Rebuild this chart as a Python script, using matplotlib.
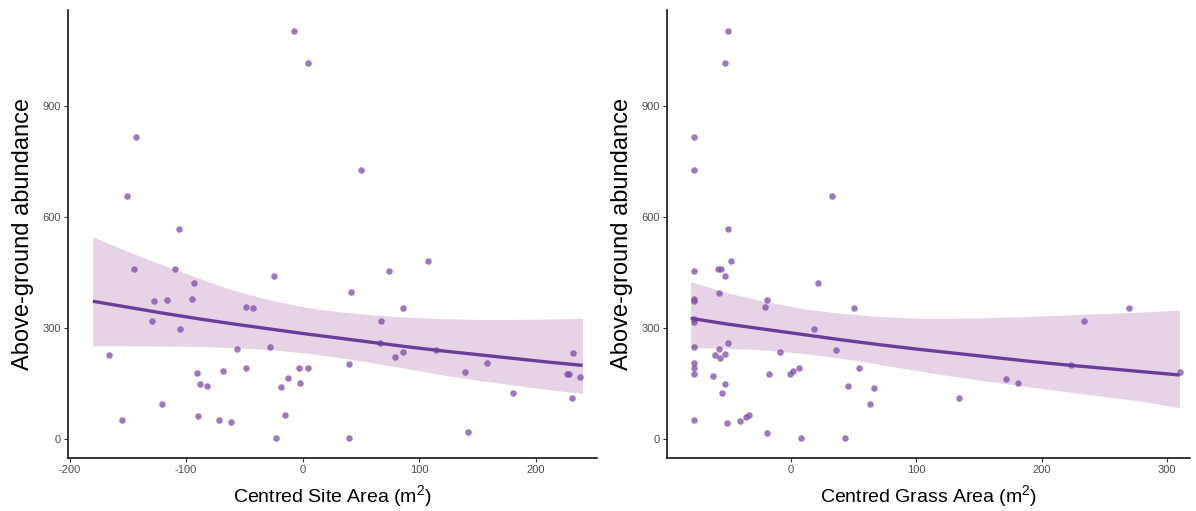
import matplotlib
matplotlib.use("Agg")
import matplotlib.pyplot as plt
import numpy as np

plt.rcParams["font.family"] = ["Liberation Sans", "DejaVu Sans"]
plt.rcParams["mathtext.fontset"] = "custom"
plt.rcParams["mathtext.rm"] = "Liberation Sans"
plt.rcParams["mathtext.it"] = "Liberation Sans:italic"
plt.rcParams["axes.unicode_minus"] = False

# --- left panel: centred site area ---
site_x = [-7.7, 4.8, -143.2, -151, -106, 50, -144.4, -109.8, -93, -24.4, 41.4,
          -127.8, -116.4, -94.7, -48.9, -42.4, -129.2, -105.5, -165.9, -56.3,
          -27.8, 39.4, -48.9, -91, -68.6, -88.3, -82.3, -2.9, 4.5, -12.3, -18.6,
          -2.6, -120.7, -154.7, -90, -71.5, -61.2, -15.4, -22.9, 39.4, 107.2, 74,
          86, 67.2, 66.6, 114, 79.2, 85.8, 139.2, 158, 180.4, 141.8, 232, 226.4,
          228.7, 238, 231]
site_y = [1103, 1017, 816, 658, 567, 727, 461, 461, 421, 442, 397, 374, 377, 379,
          358, 355, 319, 299, 228, 245, 250, 203, 193, 179, 185, 149, 144, 193,
          194, 165, 141, 153, 97, 53, 62, 52, 46, 67, 5, 4, 481, 454, 356, 321,
          261, 242, 222, 235, 181, 206, 126, 19, 233, 178, 178, 169, 112]
site_fit_x = [-180, -150, -120, -90, -60, -30, 0, 30, 60, 90, 120, 150, 180, 210, 240]
site_fit = [373, 357, 341, 326, 312, 299, 286, 274, 262, 250, 239, 229, 219, 209, 200]
site_hi = [547, 507, 471, 436, 403, 378, 358, 345, 336, 330, 326, 324, 324, 325, 327]
site_lo = [253, 253, 252, 251, 248, 243, 234, 222, 207, 191, 174, 160, 147, 135, 124]

# --- right panel: centred grass area ---
grass_x = [-50, -52.4, -77.1, -77.1, 32.7, -50.5, -47.6, -77.1, -58.5, -55.8,
           -52.6, 21.8, -57.4, -77.1, -77.1, -19.4, -20.7, 50, -77.1, -77.1,
           18.6, -50.5, -77.1, -57.4, -60.6, -56.6, -52.9, -9, 35.6, -77.1, -77.1,
           -77.1, -62, -17.3, -1, 1.6, 6.1, 54.2, -52.6, -55, 45.2, 66.2, 62.7,
           -77.1, -51.3, -40.4, -35.6, -33.7, -18.9, 8, 43, 269.8, 233.4, 223.3,
           310.2, 171.1, 181.1, 134.3]
grass_y = [1103, 1017, 816, 727, 658, 567, 481, 454, 461, 461, 442, 421, 396, 378,
           374, 377, 357, 355, 325, 318, 298, 261, 250, 244, 228, 221, 232, 235,
           242, 206, 193, 178, 170, 178, 177, 184, 192, 193, 149, 125, 144, 140,
           96, 52, 45, 51, 61, 66, 18, 4, 4, 356, 320, 202, 181, 164, 152, 112]
grass_fit_x = [-80, -50, -20, 10, 40, 70, 100, 130, 160, 190, 220, 250, 280, 310]
grass_fit = [327, 311, 297, 283, 269, 256, 244, 233, 222, 211, 201, 192, 183, 174]
grass_hi = [426, 395, 372, 353, 340, 332, 327, 327, 329, 332, 336, 340, 344, 349]
grass_lo = [248, 246, 241, 232, 219, 203, 186, 170, 156, 142, 129, 116, 103, 86]

y_ticks = [0, 300, 600, 900]

POINT = "#7d4ba6"
LINE = "#6a3d9a"
BAND = "#e6d3e6"


def panel(ax, x, y, fx, fit, lo, hi, xlim, xticks, xlabel):
    ax.fill_between(fx, lo, hi, color=BAND, lw=0, zorder=1)
    ax.scatter(x, y, s=22, color=POINT, alpha=0.75, lw=0, zorder=2)
    ax.plot(fx, fit, color=LINE, lw=2.4, zorder=3, solid_capstyle="butt")
    ax.set_xlim(*xlim)
    ax.set_ylim(-50, 1159)
    ax.set_xticks(xticks)
    ax.set_yticks(y_ticks)
    for side in ("top", "right"):
        ax.spines[side].set_visible(False)
    for side in ("left", "bottom"):
        ax.spines[side].set_linewidth(1.1)
    ax.tick_params(length=3, width=0.8, color="#333333", labelsize=8,
                   labelcolor="#4d4d4d", pad=2)
    ax.set_xlabel(xlabel, fontsize=14, labelpad=6)
    ax.set_ylabel("Above-ground abundance", fontsize=17, labelpad=6)


fig = plt.figure(figsize=(11.96, 5.11), dpi=100)
ax1 = fig.add_axes([68 / 1196, 53 / 511, 529 / 1196, 448 / 511])
ax2 = fig.add_axes([667 / 1196, 53 / 511, 523 / 1196, 448 / 511])

panel(ax1, site_x, site_y, site_fit_x, site_fit, site_lo, site_hi,
      (-201.3, 252.4), [-200, -100, 0, 100, 200], "Centred Site Area (m$^{2}$)")
panel(ax2, grass_x, grass_y, grass_fit_x, grass_fit, grass_lo, grass_hi,
      (-98.9, 318.2), [0, 100, 200, 300], "Centred Grass Area (m$^{2}$)")

fig.savefig("out.png", dpi=100)
